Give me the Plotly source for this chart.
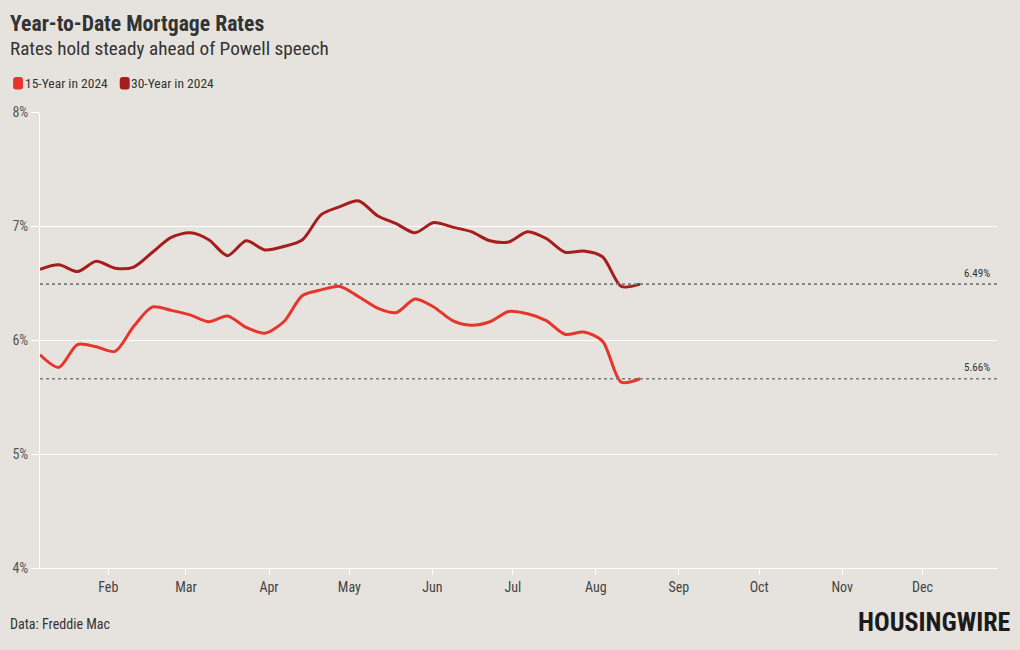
import plotly.graph_objects as go

# ---------------- data ----------------
week_dates = [
    "2024-01-04", "2024-01-11", "2024-01-18", "2024-01-25", "2024-02-01", "2024-02-08",
    "2024-02-15", "2024-02-22", "2024-02-29", "2024-03-07", "2024-03-14", "2024-03-21",
    "2024-03-28", "2024-04-04", "2024-04-11", "2024-04-18", "2024-04-25", "2024-05-02",
    "2024-05-09", "2024-05-16", "2024-05-23", "2024-05-30", "2024-06-06", "2024-06-13",
    "2024-06-20", "2024-06-27", "2024-07-04", "2024-07-11", "2024-07-18", "2024-07-25",
    "2024-08-01", "2024-08-08", "2024-08-15",
]
rate_15yr = [
    5.87, 5.76, 5.96, 5.94, 5.90, 6.12, 6.29, 6.26, 6.22, 6.16, 6.21, 6.11,
    6.06, 6.16, 6.39, 6.44, 6.47, 6.38, 6.28, 6.24, 6.36, 6.29, 6.17, 6.13,
    6.16, 6.25, 6.23, 6.17, 6.05, 6.07, 5.99, 5.63, 5.66,
]
rate_30yr = [
    6.62, 6.66, 6.60, 6.69, 6.63, 6.64, 6.77, 6.90, 6.94, 6.88, 6.74, 6.87,
    6.79, 6.82, 6.88, 7.10, 7.17, 7.22, 7.09, 7.02, 6.94, 7.03, 6.99, 6.95,
    6.87, 6.86, 6.95, 6.89, 6.77, 6.78, 6.73, 6.47, 6.49,
]
series_names = ["15-Year in 2024", "30-Year in 2024"]
y_ticks = [4, 5, 6, 7, 8]

# ---------------- style ----------------
BG = "#e6e3df"
C15 = "#e8352b"
C30 = "#a51e1b"
FONT = "Roboto Condensed, Liberation Sans Narrow, DejaVu Sans Condensed, Roboto, sans-serif"
W, H = 1020, 650
ML, MR, MT, MB = 37, 23, 112, 82
PW, PH = W - ML - MR, H - MT - MB


def px_x(x):
    return (x - ML) / PW


def px_y(y):
    return (H - MB - y) / PH


fig = go.Figure()
for name, vals, col in [(series_names[0], rate_15yr, C15), (series_names[1], rate_30yr, C30)]:
    fig.add_trace(go.Scatter(
        x=week_dates, y=vals, name=name, mode="lines",
        line=dict(color=col, width=3, shape="spline", smoothing=0.8),
        xperiod=7 * 24 * 3600 * 1000, xperiod0="2024-01-03", xperiodalignment="middle",
        showlegend=False, hoverinfo="skip",
    ))

shapes = []
annotations = []

# reference lines at latest values
for vals in (rate_30yr, rate_15yr):
    last = vals[-1]
    shapes.append(dict(type="line", xref="paper", yref="y", x0=0, x1=1, y0=last, y1=last,
                       line=dict(color="#7a7a7a", width=1.6, dash="dot"), layer="above"))
    annotations.append(dict(xref="paper", yref="y", x=px_x(992), y=last, yshift=11,
                            text=f"{last:.2f}%", showarrow=False, xanchor="right",
                            yanchor="middle", font=dict(family=FONT, size=11, color="#333")))

# legend (rounded swatches + labels)
def rounded_rect(x0, y0, x1, y1, r):
    X0, X1 = px_x(x0), px_x(x1)
    Y0, Y1 = px_y(y0), px_y(y1)
    rx, ry = r / PW, r / PH
    return (f"M{X0+rx},{Y0} L{X1-rx},{Y0} Q{X1},{Y0} {X1},{Y0-ry} L{X1},{Y1+ry} "
            f"Q{X1},{Y1} {X1-rx},{Y1} L{X0+rx},{Y1} Q{X0},{Y1} {X0},{Y1+ry} "
            f"L{X0},{Y0-ry} Q{X0},{Y0} {X0+rx},{Y0} Z")

for (sx, tx), name, col in zip([(10, 20), (117, 126)], series_names, [C15, C30]):
    shapes.append(dict(type="path", xref="paper", yref="paper",
                       path=rounded_rect(sx, 77, sx + 10, 89.5, 3),
                       fillcolor=col, line=dict(width=0)))
    annotations.append(dict(xref="paper", yref="paper", x=px_x(tx), y=px_y(83),
                            text=name, showarrow=False, xanchor="left", yanchor="middle",
                            font=dict(family=FONT, size=13.5, color="#333")))

# title / subtitle / footer
annotations += [
    dict(xref="paper", yref="paper", x=px_x(5), y=px_y(23), text="<b>Year-to-Date Mortgage Rates</b>",
         showarrow=False, xanchor="left", yanchor="middle",
         font=dict(family=FONT, size=21.7, color="#333")),
    dict(xref="paper", yref="paper", x=px_x(5), y=px_y(48), text="Rates hold steady ahead of Powell speech",
         showarrow=False, xanchor="left", yanchor="middle",
         font=dict(family=FONT, size=19.2, color="#333")),
    dict(xref="paper", yref="paper", x=px_x(5), y=px_y(624), text="Data: Freddie Mac",
         showarrow=False, xanchor="left", yanchor="middle",
         font=dict(family=FONT, size=14, color="#333")),
    dict(xref="paper", yref="paper", x=px_x(1013), y=px_y(622), text="<b>HOUSINGWIRE</b>",
         showarrow=False, xanchor="right", yanchor="middle",
         font=dict(family=FONT, size=26, color="#1b1b1b", weight=900)),
]

fig.update_layout(
    width=W, height=H,
    margin=dict(l=ML, r=MR, t=MT, b=MB),
    paper_bgcolor=BG, plot_bgcolor=BG,
    font=dict(family=FONT, size=13, color="#444"),
    shapes=shapes, annotations=annotations,
    showlegend=False,
)
fig.update_xaxes(
    type="date", range=["2024-01-06 12:00", "2024-12-28 19:00"],
    tick0="2024-02-01", dtick="M1", tickformat="%b",
    showgrid=False, zeroline=False,
    showline=True, linecolor="white", linewidth=1,
    ticks="outside", ticklen=6, tickcolor="white", tickwidth=1,
    tickfont=dict(family=FONT, size=14, color="#444"),
)
fig.update_yaxes(
    range=[4, 8], tickvals=y_ticks, ticktext=[f"{v}%" for v in y_ticks],
    showgrid=True, gridcolor="white", gridwidth=1, zeroline=False,
    showline=True, linecolor="white", linewidth=1,
    ticks="outside", ticklen=8, tickcolor="white", tickwidth=1,
    tickfont=dict(family=FONT, size=14, color="#555"),
)

fig.write_html("out.html", config={"displayModeBar": False},
               post_script="document.body.style.margin='0';")
